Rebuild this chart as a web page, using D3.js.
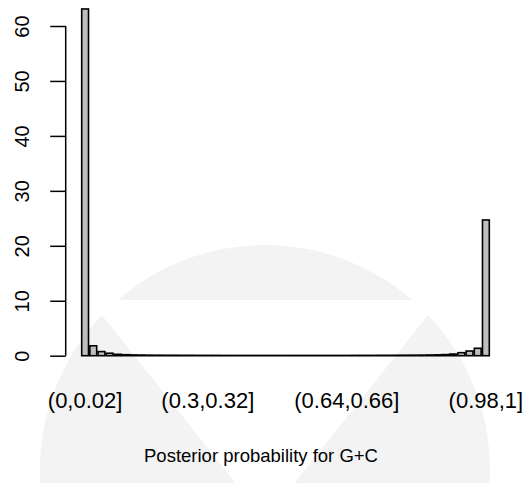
<!DOCTYPE html>
<html>
<head>
<meta charset="utf-8">
<script src="https://cdn.jsdelivr.net/npm/d3@7"></script>
<style>
  body { margin: 0; background: #fff; }
  svg { display: block; font-family: "Liberation Sans", Arial, sans-serif; }
</style>
</head>
<body>
<div class="chart"></div>
<script>
const bins = [
  '(0,0.02]', '(0.02,0.04]', '(0.04,0.06]', '(0.06,0.08]', '(0.08,0.1]',
  '(0.1,0.12]', '(0.12,0.14]', '(0.14,0.16]', '(0.16,0.18]', '(0.18,0.2]',
  '(0.2,0.22]', '(0.22,0.24]', '(0.24,0.26]', '(0.26,0.28]', '(0.28,0.3]',
  '(0.3,0.32]', '(0.32,0.34]', '(0.34,0.36]', '(0.36,0.38]', '(0.38,0.4]',
  '(0.4,0.42]', '(0.42,0.44]', '(0.44,0.46]', '(0.46,0.48]', '(0.48,0.5]',
  '(0.5,0.52]', '(0.52,0.54]', '(0.54,0.56]', '(0.56,0.58]', '(0.58,0.6]',
  '(0.6,0.62]', '(0.62,0.64]', '(0.64,0.66]', '(0.66,0.68]', '(0.68,0.7]',
  '(0.7,0.72]', '(0.72,0.74]', '(0.74,0.76]', '(0.76,0.78]', '(0.78,0.8]',
  '(0.8,0.82]', '(0.82,0.84]', '(0.84,0.86]', '(0.86,0.88]', '(0.88,0.9]',
  '(0.9,0.92]', '(0.92,0.94]', '(0.94,0.96]', '(0.96,0.98]', '(0.98,1]'
];
const percent = [
  63.1, 1.8, 0.75, 0.45, 0.25, 0.18, 0.14, 0.12, 0.1, 0.09,
  0.08, 0.08, 0.07, 0.07, 0.06, 0.06, 0.06, 0.05, 0.05, 0.05,
  0.05, 0.05, 0.05, 0.05, 0.05, 0.05, 0.05, 0.05, 0.05, 0.05,
  0.05, 0.05, 0.05, 0.06, 0.06, 0.06, 0.07, 0.07, 0.08, 0.09,
  0.1, 0.11, 0.13, 0.15, 0.2, 0.3, 0.55, 0.85, 1.35, 24.7
];
const xTickLabels = ['(0,0.02]', '(0.3,0.32]', '(0.64,0.66]', '(0.98,1]'];
const yTicks = [0, 10, 20, 30, 40, 50, 60];
const xTitle = 'Posterior probability for G+C';

const width = 530;
const height = 483;

const svg = d3.select('.chart')
  .append('svg')
  .attr('width', width)
  .attr('height', height);

// faint watermark behind the plot
const wm = svg.append('g').attr('fill', '#f3f3f3');
wm.append('circle').attr('cx', 265).attr('cy', 470).attr('r', 225);
wm.append('path')
  .attr('fill', '#fff')
  .attr('d', 'M90,300 L440,300 L265,520 Z');

const x = d3.scaleBand()
  .domain(bins)
  .range([81.7, 489.3])
  .paddingInner(1 / 6)
  .paddingOuter(0);

const y = d3.scaleLinear()
  .domain([0, 60])
  .range([355.7, 26]);

svg.append('g')
  .selectAll('rect')
  .data(percent)
  .enter()
  .append('rect')
  .attr('x', (d, i) => x(bins[i]))
  .attr('y', d => y(d))
  .attr('width', x.bandwidth())
  .attr('height', d => y(0) - y(d))
  .attr('fill', '#bebebe')
  .attr('stroke', '#000')
  .attr('stroke-width', 1.6);

const yAxis = svg.append('g')
  .attr('transform', 'translate(65.7,0)')
  .call(d3.axisLeft(y).tickValues(yTicks).tickSize(15.5).tickPadding(0).tickSizeOuter(0));
yAxis.select('.domain').attr('stroke-width', 1.5).attr('d', `M0,${y(0)}V${y(60)}`);
yAxis.selectAll('.tick line').attr('stroke-width', 1.5);
yAxis.selectAll('.tick text')
  .attr('x', 0)
  .attr('y', 0)
  .attr('dy', 0)
  .attr('text-anchor', 'middle')
  .attr('transform', 'translate(-36.5,0) rotate(-90)')
  .attr('font-size', 20)
  .attr('fill', '#000');

const xAxis = svg.append('g')
  .attr('transform', 'translate(0,355.7)')
  .call(d3.axisBottom(x).tickValues(xTickLabels).tickSize(0).tickPadding(0));
xAxis.select('.domain').remove();
xAxis.selectAll('.tick text')
  .attr('y', 52)
  .attr('dy', 0)
  .attr('font-size', 22)
  .attr('fill', '#000');

svg.append('text')
  .attr('x', 261)
  .attr('y', 462)
  .attr('text-anchor', 'middle')
  .attr('font-size', 18.5)
  .text(xTitle);
</script>
</body>
</html>
